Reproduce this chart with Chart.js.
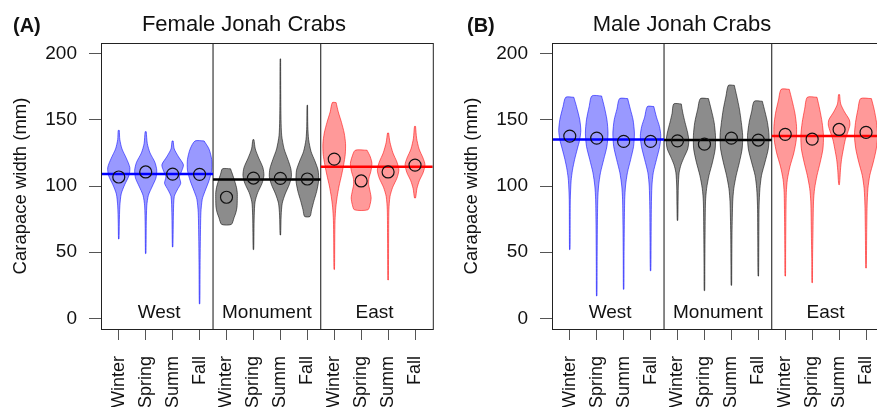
<!DOCTYPE html>
<html>
<head>
<meta charset="utf-8">
<script src="https://cdn.jsdelivr.net/npm/chart.js@4.4.1/dist/chart.umd.min.js"></script>
<style>
  html, body { margin: 0; padding: 0; background: #fff; overflow: hidden; }
  body { width: 877px; height: 407px; position: relative; }
  .panel { position: absolute; top: 0; width: 440px; height: 407px; }
  #panelA { left: 0; }
  #panelB { left: 451px; }
</style>
</head>
<body>
<div class="panel" id="panelA"><canvas id="chartA" width="440" height="407"></canvas></div>
<div class="panel" id="panelB"><canvas id="chartB" width="440" height="407"></canvas></div>
<script>
const SEASONS = ["Winter", "Spring", "Summ", "Fall", "Winter", "Spring", "Summ", "Fall", "Winter", "Spring", "Summ", "Fall"];
const REGIONS = ["West", "Monument", "East"];
const Y_TICKS = [0, 50, 100, 150, 200];

// violin profiles: [carapace width, half width of the violin in category units]
const FEMALE_VIOLINS = [
  [[142,0.02],[135,0.04],[128,0.12],[121,0.28],[114,0.41],[108,0.38],[101,0.22],[94,0.09],[85,0.04],[72,0.02],[60,0.01]],
  [[141,0.02],[132,0.06],[125,0.16],[118,0.34],[112,0.41],[106,0.38],[100,0.25],[93,0.1],[85,0.04],[70,0.02],[49,0.01]],
  [[134,0.02],[128,0.06],[122,0.22],[116,0.4],[111,0.33],[107,0.25],[102,0.3],[97,0.17],[92,0.06],[80,0.03],[54,0.01]],
  [[134,0.17],[128,0.35],[120,0.45],[112,0.45],[104,0.35],[96,0.2],[90,0.1],[80,0.05],[60,0.03],[40,0.02],[11,0.01]],
  [[113,0.15],[109,0.22],[104,0.3],[99,0.37],[95,0.4],[89,0.4],[84,0.39],[80,0.35],[76,0.28],[71,0.18]],
  [[135,0.02],[128,0.07],[121,0.2],[114,0.35],[108,0.39],[102,0.32],[95,0.16],[88,0.06],[78,0.03],[65,0.02],[52,0.01]],
  [[196,0.01],[170,0.015],[150,0.025],[138,0.05],[128,0.14],[120,0.28],[113,0.39],[107,0.41],[101,0.33],[94,0.18],[87,0.07],[78,0.03],[63,0.01]],
  [[161,0.01],[145,0.02],[135,0.05],[126,0.14],[119,0.28],[112,0.4],[104,0.42],[96,0.35],[89,0.25],[82,0.16],[77,0.1]],
  [[163,0.07],[156,0.15],[148,0.27],[140,0.37],[132,0.42],[124,0.41],[116,0.35],[108,0.27],[100,0.18],[92,0.11],[84,0.06],[74,0.03],[60,0.02],[37,0.01]],
  [[127,0.22],[122,0.34],[117,0.4],[111,0.36],[106,0.29],[101,0.28],[96,0.33],[91,0.37],[86,0.33],[82,0.25]],
  [[140,0.02],[133,0.07],[125,0.18],[118,0.33],[112,0.4],[106,0.33],[99,0.17],[92,0.07],[82,0.03],[60,0.02],[29,0.01]],
  [[145,0.02],[136,0.06],[128,0.15],[121,0.3],[116,0.37],[110,0.3],[104,0.16],[98,0.07],[91,0.02]]
];
const FEMALE_CENTERS = [106.8, 110.6, 109.0, 108.8, 91.5, 106.0, 105.8, 105.3, 120.3, 103.8, 110.6, 115.8];
const FEMALE_REGION_MEANS = [109.0, 105.0, 114.5];

const MALE_VIOLINS = [
  [[167,0.15],[160,0.25],[150,0.37],[142,0.41],[135,0.37],[128,0.28],[120,0.18],[112,0.1],[104,0.05],[90,0.02],[70,0.015],[52,0.01]],
  [[168,0.18],[160,0.28],[150,0.38],[140,0.42],[130,0.38],[120,0.26],[110,0.14],[100,0.07],[90,0.04],[70,0.025],[40,0.015],[17,0.01]],
  [[166,0.15],[158,0.25],[150,0.35],[140,0.4],[130,0.37],[120,0.26],[110,0.14],[100,0.07],[90,0.04],[70,0.025],[45,0.015],[22,0.01]],
  [[160,0.12],[152,0.22],[145,0.33],[138,0.38],[130,0.34],[120,0.22],[110,0.1],[100,0.05],[85,0.03],[60,0.02],[36,0.01]],
  [[162,0.14],[155,0.2],[148,0.28],[140,0.38],[134,0.42],[128,0.38],[122,0.25],[116,0.13],[110,0.06],[100,0.03],[85,0.02],[74,0.01]],
  [[166,0.15],[158,0.25],[148,0.36],[138,0.41],[128,0.4],[118,0.3],[108,0.17],[98,0.08],[88,0.04],[65,0.025],[40,0.015],[21,0.01]],
  [[176,0.11],[168,0.2],[158,0.3],[148,0.37],[138,0.42],[128,0.4],[118,0.3],[108,0.18],[98,0.09],[88,0.05],[65,0.025],[40,0.015],[25,0.01]],
  [[164,0.15],[156,0.25],[148,0.34],[138,0.4],[128,0.37],[118,0.25],[108,0.12],[98,0.06],[85,0.03],[60,0.02],[32,0.01]],
  [[173,0.15],[165,0.25],[155,0.36],[145,0.42],[135,0.41],[125,0.32],[115,0.18],[105,0.08],[95,0.04],[75,0.025],[50,0.015],[32,0.01]],
  [[167,0.18],[158,0.28],[148,0.37],[138,0.42],[128,0.4],[118,0.3],[108,0.18],[98,0.09],[88,0.05],[65,0.03],[45,0.015],[27,0.01]],
  [[169,0.02],[162,0.06],[156,0.2],[150,0.38],[146,0.4],[141,0.33],[135,0.23],[128,0.16],[120,0.09],[112,0.05],[105,0.03],[101,0.01]],
  [[166,0.2],[158,0.3],[148,0.39],[138,0.43],[128,0.38],[118,0.27],[108,0.14],[98,0.07],[85,0.04],[65,0.025],[38,0.01]]
];
const MALE_CENTERS = [137.7, 136.2, 133.7, 133.7, 134.1, 131.6, 136.2, 134.7, 139.0, 135.4, 142.7, 140.5];
const MALE_REGION_MEANS = [135.2, 134.7, 137.7];

const X_MIN = 0.34, X_MAX = 12.66;
const Y_MIN = -8, Y_MAX = 208;
const REGION_BREAKS = [4.5, 8.5];

const FILLS   = ["rgba(0,0,255,0.4)", "rgba(0,0,0,0.45)", "rgba(255,0,0,0.4)"];
const BORDERS = ["rgba(0,0,255,0.55)", "rgba(0,0,0,0.55)", "rgba(255,0,0,0.55)"];
const MEAN_COLORS = ["#0000ff", "#000000", "#ff0000"];
const FONT = '"Liberation Sans", Arial, Helvetica, sans-serif';

function outline(profile, pos) {
  const right = profile.map(([v, w]) => ({ x: pos + w, y: v }));
  const left  = profile.slice().reverse().map(([v, w]) => ({ x: pos - w, y: v }));
  const pts = right.concat(left);
  pts.push(pts[0]);
  return pts;
}

function buildDatasets(violins, centers, means) {
  const sets = [];

  violins.forEach((prof, i) => {
    const r = Math.floor(i / 4);
    sets.push({
      data: outline(prof, i + 1),
      borderColor: BORDERS[r],
      backgroundColor: FILLS[r],
      borderWidth: 1,
      pointRadius: 0,
      fill: "shape",
      tension: 0.25,
      order: 3
    });
  });

  // region borders
  REGION_BREAKS.forEach(b => {
    sets.push({
      data: [{ x: b, y: Y_MIN }, { x: b, y: Y_MAX }],
      borderColor: "#111",
      borderWidth: 1,
      pointRadius: 0,
      fill: false,
      order: 2
    });
  });

  // region means
  const edges = [X_MIN, ...REGION_BREAKS, X_MAX];
  means.forEach((m, r) => {
    sets.push({
      data: [{ x: edges[r], y: m }, { x: edges[r + 1], y: m }],
      borderColor: MEAN_COLORS[r],
      borderWidth: 2.5,
      pointRadius: 0,
      fill: false,
      order: 1
    });
  });

  // season circles
  sets.push({
    data: centers.map((v, i) => ({ x: i + 1, y: v })),
    showLine: false,
    pointRadius: 6,
    pointHoverRadius: 6,
    pointBorderWidth: 1.2,
    pointBorderColor: "#111",
    pointBackgroundColor: "rgba(0,0,0,0)",
    order: 0
  });

  return sets;
}

const decor = {
  id: "decor",
  afterDatasetsDraw(chart, args, opts) {
    const { ctx, chartArea: a, scales: { x, y } } = chart;
    ctx.save();
    ctx.strokeStyle = "#222";
    ctx.lineWidth = 1;
    ctx.strokeRect(Math.round(a.left) + 0.5, Math.round(a.top) + 0.5, a.right - a.left, a.bottom - a.top);

    ctx.fillStyle = "#111";
    ctx.font = `19px ${FONT}`;
    ctx.textAlign = "center";
    ctx.textBaseline = "alphabetic";
    const mids = [2.5, 6.5, 10.5];
    REGIONS.forEach((r, i) => ctx.fillText(r, x.getPixelForValue(mids[i]), y.getPixelForValue(0)));

    ctx.font = `22px ${FONT}`;
    ctx.fillText(opts.title, opts.titleX, 31);
    ctx.font = `bold 20px ${FONT}`;
    ctx.textAlign = "left";
    ctx.fillText(opts.tag, opts.tagX, 32);
    ctx.restore();
  }
};

function makeChart(id, violins, centers, means, header) {
  return new Chart(document.getElementById(id), {
    type: "line",
    data: { datasets: buildDatasets(violins, centers, means) },
    plugins: [decor],
    options: {
      responsive: false,
      animation: false,
      events: [],
      layout: { padding: { top: 43, right: 6, left: 0, bottom: 0 } },
      plugins: {
        legend: { display: false },
        tooltip: { enabled: false },
        decor: header
      },
      scales: {
        x: {
          type: "linear",
          min: X_MIN,
          max: X_MAX,
          afterBuildTicks: s => { s.ticks = SEASONS.map((_, i) => ({ value: i + 1 })); },
          afterFit: s => { s.height = 78; s.paddingLeft = 0; s.paddingRight = 0; },
          border: { display: false },
          grid: { drawOnChartArea: false, drawTicks: true, tickLength: 11, color: "#555", lineWidth: 1 },
          ticks: {
            autoSkip: false,
            minRotation: 90,
            maxRotation: 90,
            padding: 16,
            color: "#111",
            font: { family: FONT, size: 18 },
            callback: v => SEASONS[Math.round(v) - 1]
          }
        },
        y: {
          type: "linear",
          min: Y_MIN,
          max: Y_MAX,
          afterBuildTicks: s => { s.ticks = Y_TICKS.map(v => ({ value: v })); },
          afterFit: s => { s.width = 101; s.paddingTop = 0; s.paddingBottom = 0; },
          border: { display: false },
          grid: { drawOnChartArea: false, drawTicks: true, tickLength: 12, color: "#555", lineWidth: 1 },
          ticks: {
            padding: 12,
            color: "#111",
            font: { family: FONT, size: 19 }
          },
          title: {
            display: true,
            text: "Carapace width (mm)",
            color: "#111",
            font: { family: FONT, size: 18.5 },
            padding: { top: 10, bottom: 0 }
          }
        }
      }
    }
  });
}

makeChart("chartA", FEMALE_VIOLINS, FEMALE_CENTERS, FEMALE_REGION_MEANS,
  { title: "Female Jonah Crabs", titleX: 244, tag: "(A)", tagX: 13 });
makeChart("chartB", MALE_VIOLINS, MALE_CENTERS, MALE_REGION_MEANS,
  { title: "Male Jonah Crabs", titleX: 231, tag: "(B)", tagX: 16 });
</script>
</body>
</html>
